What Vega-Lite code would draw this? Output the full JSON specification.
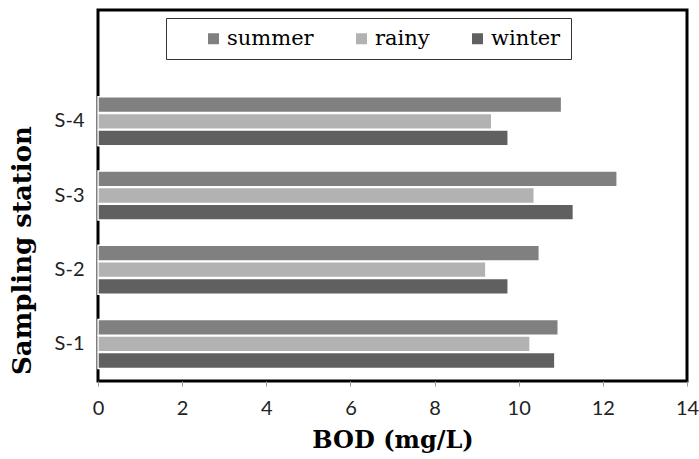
{
  "$schema": "https://vega.github.io/schema/vega-lite/v6.json",
  "width": 589,
  "height": 371,
  "autosize": {"type": "none"},
  "padding": {"left": 98, "top": 10, "right": 12, "bottom": 78},
  "background": "white",
  "data": {
    "values": [
      {"station": "S-4", "season": "summer", "bod": 11.02},
      {"station": "S-4", "season": "rainy", "bod": 9.36},
      {"station": "S-4", "season": "winter", "bod": 9.75},
      {"station": "S-3", "season": "summer", "bod": 12.34},
      {"station": "S-3", "season": "rainy", "bod": 10.37},
      {"station": "S-3", "season": "winter", "bod": 11.3},
      {"station": "S-2", "season": "summer", "bod": 10.49},
      {"station": "S-2", "season": "rainy", "bod": 9.22},
      {"station": "S-2", "season": "winter", "bod": 9.75},
      {"station": "S-1", "season": "summer", "bod": 10.94},
      {"station": "S-1", "season": "rainy", "bod": 10.27},
      {"station": "S-1", "season": "winter", "bod": 10.86}
    ]
  },
  "mark": {"type": "bar", "stroke": "white", "strokeWidth": 1.5},
  "encoding": {
    "y": {
      "field": "station",
      "type": "nominal",
      "scale": {"domain": ["_", "S-4", "S-3", "S-2", "S-1"], "paddingInner": 0.34, "paddingOuter": 0.17},
      "axis": {
        "title": "Sampling station",
        "titleFont": "DejaVu Serif",
        "titleFontWeight": "bold",
        "titleFontSize": 26,
        "titleColor": "black",
        "titleAngle": -90,
        "titleAlign": "center",
        "titleBaseline": "middle",
        "titleX": -76,
        "titleY": 240,
        "labelExpr": "datum.label == '_' ? '' : datum.label",
        "labelFont": "Lato",
        "labelFontSize": 20,
        "labelColor": "#222222",
        "labelPadding": 14,
        "ticks": false,
        "domain": false,
        "grid": false
      }
    },
    "yOffset": {
      "field": "season",
      "type": "nominal",
      "scale": {"domain": ["summer", "rainy", "winter"], "paddingInner": 0.05}
    },
    "x": {
      "field": "bod",
      "type": "quantitative",
      "scale": {"domain": [0, 14], "nice": false},
      "axis": {
        "title": "BOD (mg/L)",
        "titleFont": "DejaVu Serif",
        "titleFontWeight": "bold",
        "titleFontSize": 24,
        "titleColor": "black",
        "titlePadding": 10,
        "values": [0, 2, 4, 6, 8, 10, 12, 14],
        "labelFont": "Lato",
        "labelFontSize": 20,
        "labelColor": "#222222",
        "labelPadding": 12,
        "labelFlush": false,
        "tickSize": 5,
        "tickColor": "#999999",
        "domain": false,
        "grid": false
      }
    },
    "color": {
      "field": "season",
      "type": "nominal",
      "scale": {"domain": ["summer", "rainy", "winter"], "range": ["#808080", "#b2b2b2", "#606060"]},
      "legend": {
        "title": null,
        "orient": "none",
        "legendX": 68,
        "legendY": 8,
        "direction": "horizontal",
        "symbolType": "square",
        "symbolSize": 121,
        "symbolStrokeWidth": 0,
        "labelFont": "DejaVu Serif",
        "labelFontSize": 21,
        "labelColor": "black",
        "labelOffset": 3,
        "columnPadding": 10,
        "padding": 10,
        "symbolOffset": 27,
        "strokeColor": "#333333",
        "fillColor": "white"
      }
    }
  },
  "config": {
    "view": {"stroke": "black", "strokeWidth": 3}
  }
}
